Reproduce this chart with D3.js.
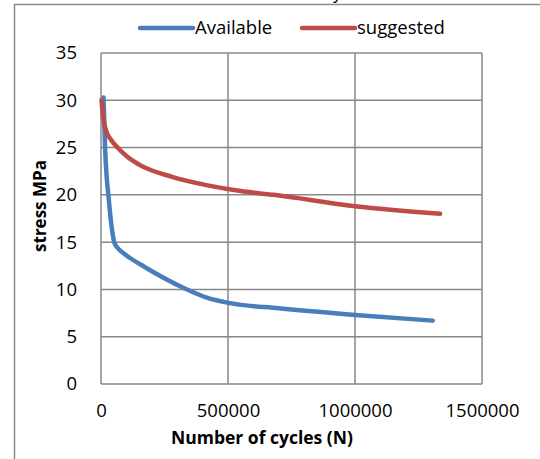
<!DOCTYPE html>
<html>
<head>
<meta charset="utf-8">
<script src="https://cdn.jsdelivr.net/npm/d3@7"></script>
<style>
  body { margin: 0; background: #fff; }
  text { font-family: "Open Sans", "Liberation Sans", Arial, sans-serif; fill: #000; }
</style>
</head>
<body>
<div id="vis"></div>
<script>
// values
const availN      = [10000, 16000, 22000, 29000, 36000, 44000, 52000, 65000, 85000, 110000, 170000, 330000, 420000, 508000, 700000, 1000000, 1306000];
const availStress = [30.3, 25, 22, 20, 18, 16.2, 15.0, 14.4, 13.9, 13.4, 12.4, 10.1, 9.1, 8.55, 8.0, 7.3, 6.7];

const suggN      = [2000, 8000, 20000, 40000, 65000, 100000, 150000, 280000, 420000, 550000, 680000, 1000000, 1335000];
const suggStress = [30.0, 28.3, 26.8, 25.8, 25.0, 24.1, 23.2, 21.9, 21.0, 20.4, 20.0, 18.8, 18.0];

const xTicks = [0, 500000, 1000000, 1500000];
const yTicks = [0, 5, 10, 15, 20, 25, 30, 35];

const seriesNames = ["Available", "suggested"];
const colors = ["#4a7ebb", "#be4b48"];

const width = 540, height = 459;
const plotLeft = 101, plotRight = 482, plotTop = 53, plotBottom = 384;
const fontFam = "Open Sans, Liberation Sans, Arial, sans-serif";

const svg = d3.select("#vis").append("svg").attr("width", width).attr("height", height);

// outer chart border (only left and top show)
svg.append("path")
  .attr("d", `M14.5,${height} L14.5,4.5 L${width},4.5`)
  .attr("fill", "none").attr("stroke", "#8c8c8c").attr("stroke-width", 1.5);

// clipped title, only the tail shows
svg.append("text").attr("x", 333).attr("y", -1).attr("font-size", 18).text("y");

const x = d3.scaleLinear().domain([0, 1500000]).range([plotLeft, plotRight]);
const y = d3.scaleLinear().domain([0, 35]).range([plotBottom, plotTop]);

// grid
svg.append("g").selectAll("line").data(yTicks).enter().append("line")
  .attr("x1", plotLeft).attr("x2", plotRight)
  .attr("y1", d => y(d)).attr("y2", d => y(d))
  .attr("stroke", "#878787").attr("stroke-width", 1.5);
svg.append("g").selectAll("line").data(xTicks).enter().append("line")
  .attr("y1", plotTop).attr("y2", plotBottom)
  .attr("x1", d => x(d)).attr("x2", d => x(d))
  .attr("stroke", "#878787").attr("stroke-width", 1.5);

// tick labels via d3 axes
const yAxis = svg.append("g").attr("transform", `translate(${plotLeft},0)`)
  .call(d3.axisLeft(y).tickValues(yTicks).tickSize(0).tickPadding(24));
const xAxis = svg.append("g").attr("transform", `translate(0,${plotBottom})`)
  .call(d3.axisBottom(x).tickValues(xTicks).tickSize(0).tickPadding(20).tickFormat(d3.format("d")));
[yAxis, xAxis].forEach(a => {
  a.select(".domain").remove();
  a.selectAll("text").attr("font-size", 18.5).attr("font-family", fontFam).attr("fill", "#000");
});

// lines
const line = d3.line().x(d => x(d[0])).y(d => y(d[1])).curve(d3.curveMonotoneX);
const series = [
  availN.map((n, i) => [n, availStress[i]]),
  suggN.map((n, i) => [n, suggStress[i]])
];
series.forEach((s, i) => {
  svg.append("path").datum(s).attr("d", line)
    .attr("fill", "none").attr("stroke", colors[i])
    .attr("stroke-width", 4.5).attr("stroke-linecap", "round").attr("stroke-linejoin", "round");
});

// axis titles
svg.append("text").attr("x", 262).attr("y", 444).attr("text-anchor", "middle")
  .attr("font-size", 17.5).attr("font-weight", "bold").text("Number of cycles (N)");
svg.append("text").attr("transform", "translate(46,206) rotate(-90)").attr("text-anchor", "middle")
  .attr("font-size", 17).attr("font-weight", "bold").text("stress MPa");

// legend
const legendX = [140, 302];
seriesNames.forEach((name, i) => {
  svg.append("line").attr("x1", legendX[i]).attr("x2", legendX[i] + 53)
    .attr("y1", 28).attr("y2", 28)
    .attr("stroke", colors[i]).attr("stroke-width", 4.5).attr("stroke-linecap", "round");
  svg.append("text").attr("x", legendX[i] + 55).attr("y", 34)
    .attr("font-size", 18.5).text(name);
});
</script>
</body>
</html>
